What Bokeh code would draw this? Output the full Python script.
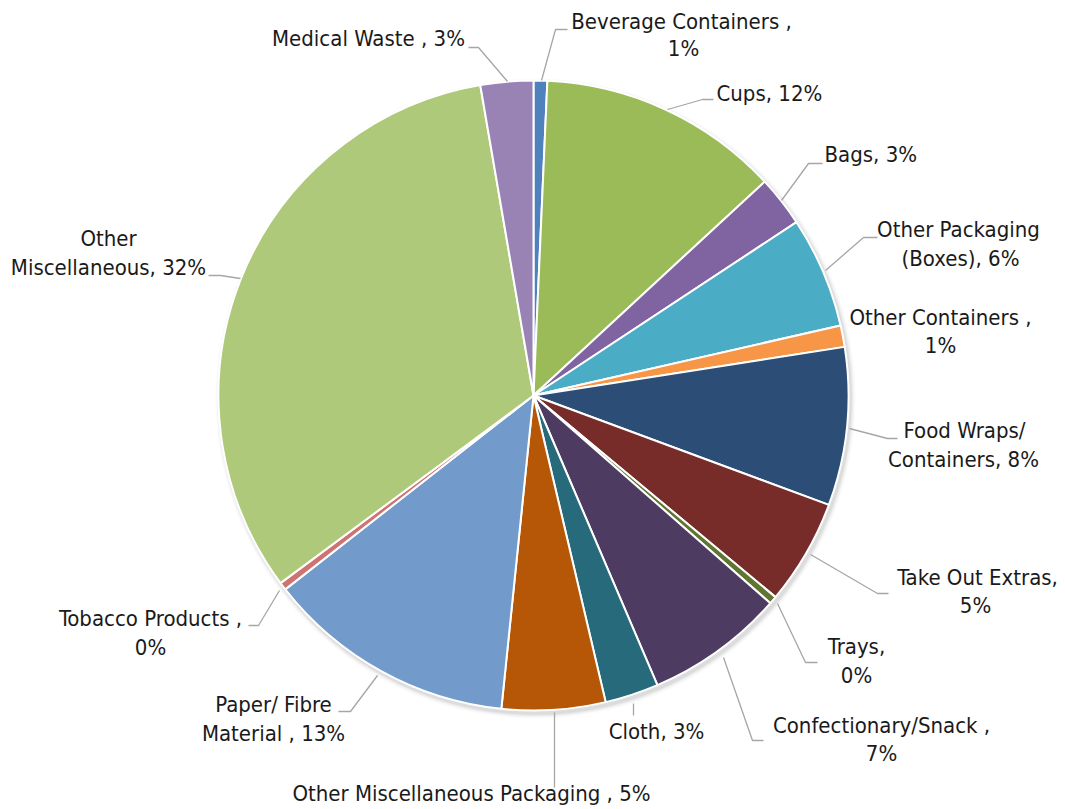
import numpy as np
from bokeh.plotting import figure
from bokeh.models import Range1d
from bokeh.core.properties import value
from bokeh.embed import file_html
from bokeh.resources import INLINE

# ---- data (clockwise from 12 o'clock) ----
categories = ["Beverage Containers", "Cups", "Bags", "Other Packaging (Boxes)",
              "Other Containers", "Food Wraps/ Containers", "Take Out Extras", "Trays",
              "Confectionary/Snack", "Cloth", "Other Miscellaneous Packaging",
              "Paper/ Fibre Material", "Tobacco Products", "Other Miscellaneous",
              "Medical Waste"]
shares = [0.7, 12.4, 2.6, 5.7, 1.1, 8.1, 5.4, 0.4, 7.1, 2.75, 5.3, 12.8, 0.4, 32.4, 2.7]
pct_labels = ["1%", "12%", "3%", "6%", "1%", "8%", "5%", "0%", "7%", "3%", "5%",
              "13%", "0%", "32%", "3%"]
colors = ["#4F81BD", "#9BBB59", "#8064A2", "#4BACC6", "#F79646", "#2C4D75", "#772C2A",
          "#5F7530", "#4D3B62", "#276A7C", "#B65708", "#729ACA", "#CD7371", "#AFC97A",
          "#9983B5"]

W, H = 1065, 809
def Y(ys):
    return 809 - ys

p = figure(width=W, height=H, output_backend="svg", toolbar_location=None,
           x_range=Range1d(0, W), y_range=Range1d(809 - H, 809), min_border=0)
p.axis.visible = False
p.grid.visible = False
p.outline_line_color = None
p.background_fill_color = "white"

cx, cy, R = 533, Y(395), 315

# shadow
for i, a in enumerate([0.10, 0.08, 0.06, 0.04, 0.03]):
    p.circle(x=[cx + 2], y=[cy - 3], radius=R + 1 + i, fill_color="#808080",
             fill_alpha=a, line_color=None)

v = np.array(shares, dtype=float)
frac = v / v.sum()
cum = np.concatenate([[0], np.cumsum(frac)]) * 2 * np.pi
start = np.pi / 2 - cum[:-1]
end = np.pi / 2 - cum[1:]
p.wedge(x=cx, y=cy, radius=R, start_angle=start, end_angle=end, direction="clock",
        fill_color=colors, line_color="white", line_width=2)

# leader lines (screen coords)
leaders = [
    [(541, 80), (555, 29), (567, 29)],
    [(667, 109), (702, 99), (713, 99)],
    [(781, 200), (808, 163), (822, 163)],
    [(825, 270), (863, 237), (877, 237)],
    None,
    [(849, 428), (887, 438), (897, 438)],
    [(810, 554), (877, 593), (888, 593)],
    [(777, 603), (805, 662), (817, 662)],
    [(723, 657), (752, 740), (763, 740)],
    [(633, 703), (633, 715)],
    [(554, 712), (554, 787)],
    [(377, 675), (350, 711), (338, 711)],
    [(279, 590), (258, 625), (248, 625)],
    [(240, 278), (220, 275), (208, 275)],
    [(507, 81), (478, 47), (468, 47)],
]
xs, ys = [], []
for ld in leaders:
    if ld is None:
        continue
    xs.append([q[0] for q in ld])
    ys.append([Y(q[1]) for q in ld])
p.multi_line(xs=xs, ys=ys, line_color="#A6A6A6", line_width=1.3)

# label layout: lines with (x, y_screen, align)
layout = [
    [("Beverage Containers ,", 681, 21, "center"), ("1%", 683, 48, "center")],
    [("Cups, 12%", 716, 93, "left")],
    [("Bags, 3%", 824, 154, "left")],
    [("Other Packaging", 958, 229, "center"), ("(Boxes), 6%", 960, 258, "center")],
    [("Other Containers ,", 940, 317, "center"), ("1%", 940, 345, "center")],
    [("Food Wraps/", 964, 430, "center"), ("Containers, 8%", 963, 459, "center")],
    [("Take Out Extras,", 977, 577, "center"), ("5%", 975, 605, "center")],
    [("Trays,", 856, 646, "center"), ("0%", 856, 675, "center")],
    [("Confectionary/Snack ,", 881, 725, "center"), ("7%", 881, 753, "center")],
    [("Cloth, 3%", 656, 731, "center")],
    [("Other Miscellaneous Packaging , 5%", 471, 793, "center")],
    [("Paper/ Fibre", 273, 704, "center"), ("Material , 13%", 273, 733, "center")],
    [("Tobacco Products ,", 150, 618, "center"), ("0%", 150, 647, "center")],
    [("Other", 108, 238, "center"), ("Miscellaneous, 32%", 108, 267, "center")],
    [("Medical Waste , 3%", 368, 38, "center")],
]
font = value("Liberation Sans Narrow, DejaVu Sans Condensed, sans-serif")
for lines in layout:
    for (t, x, y, al) in lines:
        p.text(x=[x], y=[Y(y)], text=[t], text_align=al, text_baseline="middle",
               text_font=font, text_font_size="22px", text_color="#1a1a1a")

open("out.html", "w").write(file_html(p, INLINE))
